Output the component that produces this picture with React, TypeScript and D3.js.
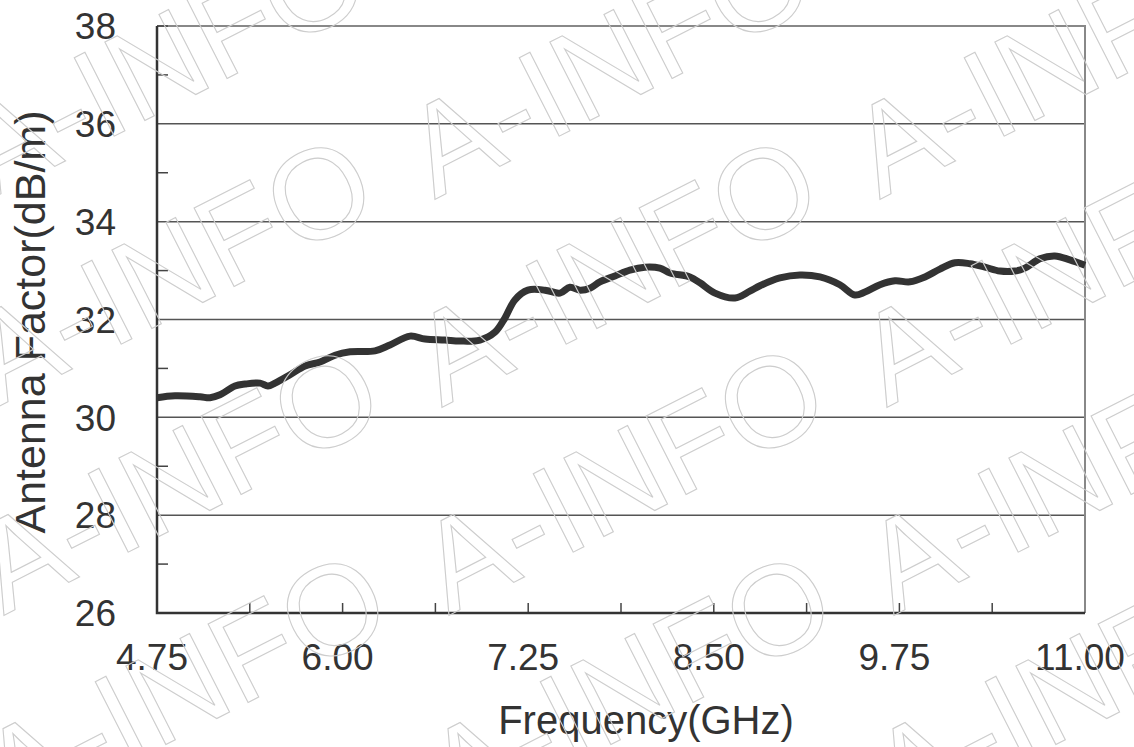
import * as d3 from "d3";
import { useEffect, useRef } from "react";

// frequency (GHz) and antenna factor (dB/m)
const freq = [
  4.75, 4.871, 5.04, 5.107, 5.174, 5.275, 5.343, 5.444, 5.497, 5.545, 5.646,
  5.747, 5.848, 5.949, 6.05, 6.218, 6.319, 6.454, 6.555, 6.689, 6.79, 6.925,
  7.026, 7.093, 7.16, 7.248, 7.363, 7.464, 7.531, 7.598, 7.666, 7.733, 7.834,
  7.935, 8.036, 8.137, 8.205, 8.339, 8.407, 8.508, 8.642, 8.743, 8.811, 8.945,
  9.08, 9.215, 9.349, 9.45, 9.518, 9.619, 9.72, 9.821, 9.922, 10.023, 10.124,
  10.225, 10.326, 10.427, 10.528, 10.595, 10.696, 10.797, 10.898, 11.0,
];
const factor = [
  30.4, 30.44, 30.42, 30.4, 30.46, 30.64, 30.68, 30.7, 30.64, 30.7, 30.87,
  31.05, 31.13, 31.27, 31.34, 31.36, 31.48, 31.66, 31.6, 31.58, 31.56, 31.58,
  31.74, 32.03, 32.4, 32.6, 32.6, 32.54, 32.66, 32.6, 32.64, 32.77, 32.89,
  33.01, 33.07, 33.05, 32.95, 32.87, 32.75, 32.54, 32.44, 32.58, 32.69, 32.85,
  32.91, 32.87, 32.71, 32.5, 32.56, 32.71, 32.79, 32.77, 32.87, 33.03, 33.16,
  33.14, 33.07, 32.99, 32.99, 33.05, 33.24, 33.3, 33.22, 33.11,
];

const xTicks = [4.75, 6.0, 7.25, 8.5, 9.75, 11.0];
const xMinor = [5.375, 6.625, 7.875, 9.125, 10.375];
const yTicks = [26, 28, 30, 32, 34, 36, 38];
const yMinor = [27, 29, 31, 33, 35, 37];
const gridValues = [28, 30, 32, 34, 36];

const width = 1134;
const height = 747;
const margin = { top: 26, right: 49, bottom: 134, left: 157 };
const font = "'Liberation Sans', Arial, sans-serif";

const App = () => {
  const ref = useRef<SVGSVGElement | null>(null);

  useEffect(() => {
    const svg = d3.select(ref.current);
    svg.selectAll("*").remove();

    const x = d3
      .scaleLinear()
      .domain([4.75, 11])
      .range([margin.left, width - margin.right]);
    const y = d3
      .scaleLinear()
      .domain([26, 38])
      .range([height - margin.bottom, margin.top]);

    svg.append("rect").attr("width", width).attr("height", height).attr("fill", "#fff");

    const plot = svg.append("g");

    // grid
    plot
      .selectAll("line.grid")
      .data(gridValues)
      .enter()
      .append("line")
      .attr("x1", x(4.75))
      .attr("x2", x(11))
      .attr("y1", (d) => y(d))
      .attr("y2", (d) => y(d))
      .attr("stroke", "#555")
      .attr("stroke-width", 1.5);

    // top and right border
    plot
      .append("path")
      .attr("d", `M${x(4.75)},${y(38)}H${x(11)}V${y(26)}`)
      .attr("fill", "none")
      .attr("stroke", "#888")
      .attr("stroke-width", 2);

    // minor ticks
    plot
      .selectAll("line.ym")
      .data([...yMinor, 38])
      .enter()
      .append("line")
      .attr("x1", x(4.75))
      .attr("x2", x(4.75) + 11)
      .attr("y1", (d) => y(d))
      .attr("y2", (d) => y(d))
      .attr("stroke", "#444")
      .attr("stroke-width", 1.5);
    plot
      .selectAll("line.xm")
      .data([...xMinor, ...xTicks.slice(1, -1)])
      .enter()
      .append("line")
      .attr("x1", (d) => x(d))
      .attr("x2", (d) => x(d))
      .attr("y1", y(26))
      .attr("y2", y(26) - 10)
      .attr("stroke", "#444")
      .attr("stroke-width", 1.5);

    // axes lines
    plot
      .append("path")
      .attr("d", `M${x(4.75)},${y(38)}V${y(26)}H${x(11)}`)
      .attr("fill", "none")
      .attr("stroke", "#333")
      .attr("stroke-width", 2.5);

    // curve
    const line = d3
      .line<number>()
      .x((_, i) => x(freq[i]))
      .y((d) => y(d))
      .curve(d3.curveCatmullRom.alpha(0.5));
    plot
      .append("path")
      .datum(factor)
      .attr("d", line)
      .attr("fill", "none")
      .attr("stroke", "#333")
      .attr("stroke-width", 7)
      .attr("stroke-linejoin", "round")
      .attr("stroke-linecap", "butt");

    // tick labels
    svg
      .selectAll("text.yl")
      .data(yTicks)
      .enter()
      .append("text")
      .attr("x", 116)
      .attr("y", (d) => y(d))
      .attr("dy", "0.36em")
      .attr("text-anchor", "end")
      .attr("font-family", font)
      .attr("font-size", 37)
      .attr("fill", "#333")
      .text((d) => d);
    svg
      .selectAll("text.xl")
      .data(xTicks)
      .enter()
      .append("text")
      .attr("x", (d) => x(d) - 5)
      .attr("y", 670)
      .attr("text-anchor", "middle")
      .attr("font-family", font)
      .attr("font-size", 37)
      .attr("fill", "#333")
      .text((d) => d3.format(".2f")(d));

    // axis titles
    svg
      .append("text")
      .attr("x", 646)
      .attr("y", 734)
      .attr("text-anchor", "middle")
      .attr("font-family", font)
      .attr("font-size", 40)
      .attr("fill", "#333")
      .text("Frequency(GHz)");
    svg
      .append("text")
      .attr("transform", "translate(45,322) rotate(-90)")
      .attr("text-anchor", "middle")
      .attr("font-family", font)
      .attr("font-size", 43)
      .attr("fill", "#333")
      .text("Antenna Factor(dB/m)");

    // watermark
    const marks: [number, number][] = [];
    for (let r = -1; r < 3; r++) {
      for (let c = -1; c < 2; c++) {
        marks.push([614 + 445 * c + 7 * r, 268 + 208 * r]);
      }
    }
    svg
      .append("g")
      .selectAll("text")
      .data(marks)
      .enter()
      .append("text")
      .attr("transform", (d) => `translate(${d[0]},${d[1]}) rotate(-27)`)
      .attr("text-anchor", "middle")
      .attr("dy", "0.36em")
      .attr("font-family", font)
      .attr("font-size", 128)
      .attr("fill", "none")
      .attr("stroke", "#cdcdcd")
      .attr("stroke-width", 1.1)
      .text("A-INFO");
  }, []);

  return <svg ref={ref} width={width} height={height} style={{ display: "block", position: "absolute", left: 0, top: 0 }}></svg>;
};

export default App;
